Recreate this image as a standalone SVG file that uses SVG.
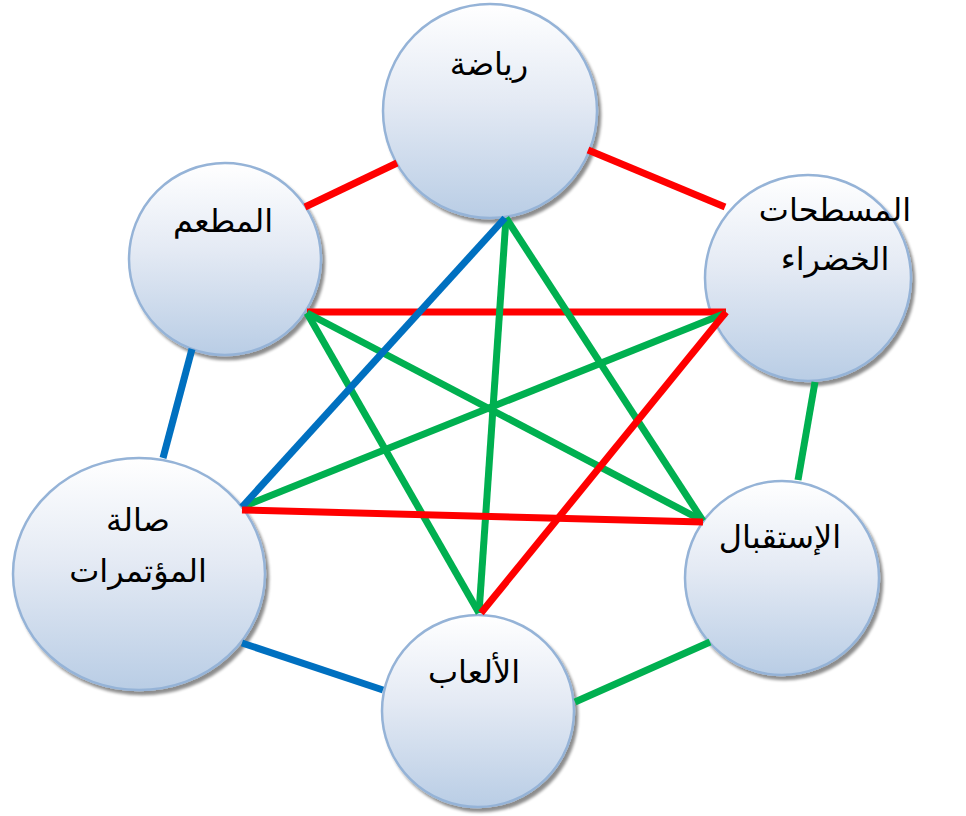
<svg xmlns="http://www.w3.org/2000/svg" width="966" height="816" viewBox="0 0 966 816">
<defs>
<linearGradient id="g" x1="0" y1="0" x2="0" y2="1">
<stop offset="0" stop-color="#FFFFFF"/>
<stop offset="0.45" stop-color="#E4EAF4"/>
<stop offset="1" stop-color="#B9CDE5"/>
</linearGradient>
<filter id="sh" x="-10%" y="-10%" width="130%" height="130%">
<feGaussianBlur in="SourceAlpha" stdDeviation="1.5"/>
<feOffset dx="3" dy="4" result="b"/>
<feComponentTransfer><feFuncA type="linear" slope="0.45"/></feComponentTransfer>
<feMerge><feMergeNode/><feMergeNode in="SourceGraphic"/></feMerge>
</filter>
</defs>
<style>
.n{fill:url(#g);stroke:#95B3D7;stroke-width:2.5;filter:url(#sh)}
.t{font-family:"DejaVu Sans","Liberation Sans",sans-serif;font-size:32px;fill:#000;text-anchor:middle}
.c line{stroke-width:7;stroke-linecap:butt}
.r{stroke:#FF0000}.gr{stroke:#00B050}.b{stroke:#0070C0}
</style>
<g id="node-riyada"><circle class="n" cx="490" cy="111" r="107"/><text class="t" x="489" y="75">رياضة</text></g>
<g id="node-mataam"><circle class="n" cx="225" cy="259" r="96"/><text class="t" x="223" y="232">المطعم</text></g>
<g id="node-masatahat"><circle class="n" cx="808" cy="278" r="103"/><text class="t" x="835" y="221">المسطحات</text><text class="t" x="835" y="270">الخضراء</text></g>
<g id="node-qaa"><ellipse class="n" cx="139" cy="574" rx="126" ry="116"/><text class="t" x="138" y="531">صالة</text><text class="t" x="138" y="582">المؤتمرات</text></g>
<g id="node-istiqbal"><circle class="n" cx="782" cy="578" r="97"/><text class="t" x="780" y="548">الإستقبال</text></g>
<g id="node-alaab"><circle class="n" cx="478" cy="711" r="96"/><text class="t" x="474" y="683">الألعاب</text></g>
<g class="c" id="connectors">
<line class="r" x1="305" y1="207" x2="397" y2="163"/>
<line class="r" x1="588" y1="150" x2="725" y2="207"/>
<line class="gr" x1="815" y1="382" x2="798" y2="480"/>
<line class="gr" x1="710" y1="642" x2="575" y2="702"/>
<line class="b" x1="383" y1="690" x2="242" y2="643"/>
<line class="b" x1="163" y1="458" x2="192" y2="349"/>
<line class="r" x1="307" y1="312" x2="726" y2="312"/>
<line class="gr" x1="242" y1="507" x2="726" y2="313"/>
<line class="gr" x1="307" y1="313" x2="703" y2="521"/>
<line class="gr" x1="307" y1="313" x2="479" y2="613"/>
<line class="gr" x1="506" y1="218" x2="703" y2="521"/>
<line class="gr" x1="506" y1="218" x2="479" y2="613"/>
<line class="b" x1="242" y1="507" x2="505" y2="218"/>
<line class="r" x1="242" y1="510" x2="703" y2="522"/>
<line class="r" x1="726" y1="312" x2="481" y2="613"/>
</g>
</svg>
